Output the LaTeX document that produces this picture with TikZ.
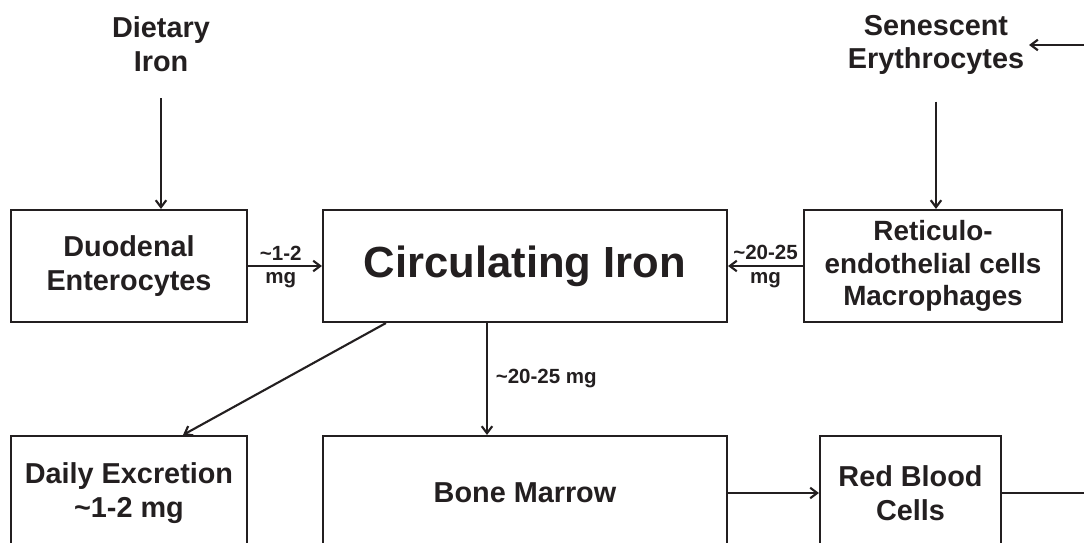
\documentclass[tikz,border=0pt]{standalone}
\usepackage{fontspec}
\setmainfont{Liberation Sans}
\usepackage{tikz}
\usetikzlibrary{arrows.meta,positioning}
\definecolor{ironInk}{RGB}{35,31,32}

\begin{document}
\begin{tikzpicture}[
  ironbox/.style={draw=ironInk, line width=1.5pt, text=ironInk, align=center, inner sep=0pt,
    font=\fontsize{20.5}{24}\selectfont\bfseries},
  ironlabel/.style={text=ironInk, align=center, font=\fontsize{20.5}{24}\selectfont\bfseries},
  flow/.style={draw=ironInk, line width=1.5pt, -{Straight Barb[length=5pt,width=7.5pt]}},
  plain/.style={draw=ironInk, line width=1.5pt},
  amount/.style={text=ironInk, inner sep=3.5pt, font=\fontsize{14.6}{17}\selectfont\bfseries}
]
\clip (0,0) rectangle (27.1,-13.575);

% sources
\node[ironlabel] (diet) at (4.025,-1.1) {Dietary\\Iron};
\node[ironlabel] (sen) at (23.4,-1.125) {Senescent\\Erythrocytes};
\coordinate (senin) at (27.1,-1.125);

% middle row
\node[ironbox, minimum width=5.9cm, minimum height=2.8cm] (duo) at (3.225,-6.65) {Duodenal\\Enterocytes};
\node[ironbox, minimum width=10.1cm, minimum height=2.8cm, font=\fontsize{31}{36}\selectfont\bfseries]
  (circ) at (13.125,-6.65) {Circulating Iron};
\node[ironbox, minimum width=6.45cm, minimum height=2.8cm, font=\fontsize{19.8}{23}\selectfont\bfseries]
  (ret) at (23.325,-6.65) {Reticulo-\\endothelial cells\\Macrophages};

% bottom row
\node[ironbox, minimum width=5.9cm, minimum height=2.85cm] (daily) at (3.225,-12.325) {Daily Excretion\\\textasciitilde1-2 mg};
\node[ironbox, minimum width=10.1cm, minimum height=2.85cm] (bone) at (13.125,-12.325) {Bone Marrow};
\node[ironbox, minimum width=4.525cm, minimum height=2.85cm] (rbc) at (22.7625,-12.325) {Red Blood\\Cells};
\coordinate (rbcout) at (27.1,-12.325);

% connectors
\draw[flow] ([yshift=-15.5pt]diet.south) -- (diet.south |- duo.north);
\draw[flow] ([yshift=-15.5pt]sen.south) -- (sen.south |- ret.north);
\draw[flow] (senin) -- (sen.east);
\draw[flow] (duo.east) -- node[amount, above, xshift=-3pt] {\textasciitilde1-2}
  node[amount, below, xshift=-3pt] {mg} (circ.west);
\draw[flow] (ret.west) -- node[amount, above] {\textasciitilde20-25}
  node[amount, below] {mg} (circ.east);
\draw[flow] ([xshift=1.6cm]circ.south west) -- ([xshift=1.35cm]daily.north);
\draw[flow] ([xshift=-0.95cm]circ.south) -- node[amount, right, xshift=2pt] {\textasciitilde20-25 mg}
  ([xshift=-0.95cm]bone.north);
\draw[flow] (bone.east) -- (rbc.west);
\draw[plain] (rbc.east) -- (rbcout);
\end{tikzpicture}
\end{document}
